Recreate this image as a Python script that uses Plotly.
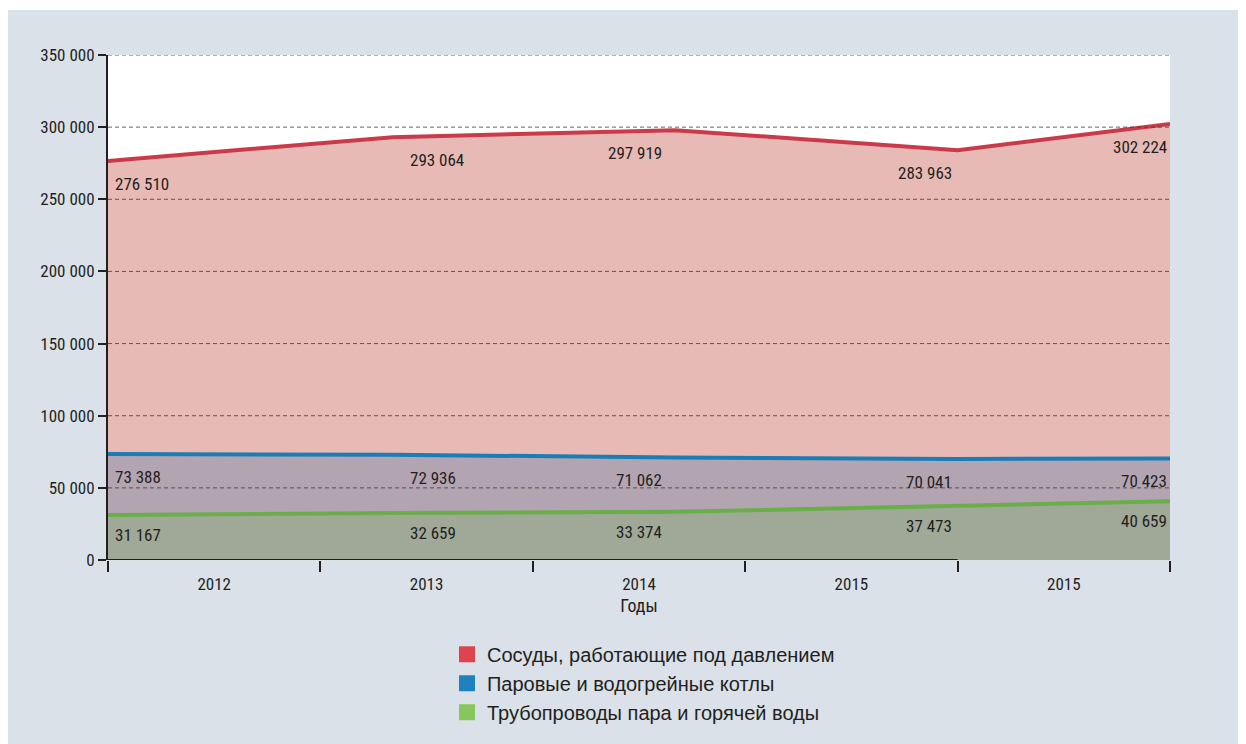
import plotly.graph_objects as go

# Data
years = ['2012', '2013', '2014', '2015', '2015']
x_points = [0, 1.34, 2.67, 4.0, 5.0]  # where the line vertices sit on the axis
vessels = [276510, 293064, 297919, 283963, 302224]
boilers = [73388, 72936, 71062, 70041, 70423]
pipes = [31167, 32659, 33374, 37473, 40659]
y_ticks = [0, 50000, 100000, 150000, 200000, 250000, 300000, 350000]

names = ['Сосуды, работающие под давлением',
         'Паровые и водогрейные котлы',
         'Трубопроводы пара и горячей воды']
legend_colors = ['#e0434f', '#1f82c0', '#86c65a']
line_colors = ['#c93a4a', '#1a7db5', '#6aae4a']
fill_colors = ['#e8bab5', '#b3a4b2', '#a0a898']

FONT = "Liberation Sans Narrow, Roboto Condensed, Roboto, Arial"
LEGEND_FONT = "Liberation Sans, Arial"
INK = '#231f20'


def fmt(v):
    return f"{v:,}".replace(",", " ")


fig = go.Figure()

# area bands, drawn bottom up so every band fills to the one below it
series = [pipes, boilers, vessels]
for i, vals in enumerate(series):
    k = 2 - i
    fig.add_trace(go.Scatter(
        x=x_points, y=vals, mode='lines',
        line=dict(color=line_colors[k], width=4),
        fill='tozeroy' if i == 0 else 'tonexty',
        fillcolor=fill_colors[k],
        showlegend=False, hoverinfo='skip'
    ))

# legend entries as plain squares
for name, col in zip(names, legend_colors):
    fig.add_trace(go.Scatter(
        x=[None], y=[None], mode='markers', name=name,
        marker=dict(symbol='square', size=16, color=col)
    ))

# value labels under each vertex
anchors = ['left', 'left', 'right', 'right', 'right']
shifts = [5, 15, -11, -4, -1]
for vals, dy in [(vessels, -11), (boilers, -11), (pipes, -8)]:
    for xv, yv, a, s in zip(x_points, vals, anchors, shifts):
        fig.add_annotation(
            x=xv, y=yv, text=fmt(yv), showarrow=False,
            xanchor=a, yanchor='top', xshift=s, yshift=dy,
            font=dict(size=17, color=INK, family=FONT)
        )

# dashed grid drawn over the filled areas
for v in y_ticks[1:]:
    fig.add_shape(type='line', xref='paper', yref='y', layer='above',
                  x0=0, x1=1, y0=v, y1=v,
                  line=dict(color='rgba(60,60,60,0.8)', width=1, dash='4px,3px'))

# thin white strip along the top edge
fig.add_shape(type='rect', xref='paper', yref='paper', layer='below',
              x0=-0.0942, x1=1.0716, y0=1.0891, y1=1.0931,
              fillcolor='white', line=dict(width=0))
# bottom axis line, which stops at the last inner tick
fig.add_shape(type='line', xref='x', yref='y', x0=0, x1=4, y0=0, y1=0,
              line=dict(color=INK, width=2))

fig.update_xaxes(
    range=[0, 5],
    tickvals=[i + 0.5 for i in range(len(years))],
    ticktext=years,
    ticks='outside', ticklen=9, tickcolor='rgba(0,0,0,0)',
    showgrid=False, zeroline=False, showline=False,
    minor=dict(tickvals=list(range(len(years) + 1)), ticks='outside',
               ticklen=11, tickwidth=1.5, tickcolor=INK, showgrid=False),
    tickfont=dict(size=17, color=INK, family=FONT),
    title=dict(text='Годы', font=dict(size=18, color=INK, family=FONT),
               standoff=5),
)
fig.update_yaxes(
    range=[0, 350000],
    tickvals=y_ticks,
    ticktext=[fmt(v) for v in y_ticks],
    ticks='outside', ticklen=8, tickwidth=1.5, tickcolor=INK,
    showline=True, linecolor=INK, linewidth=2,
    showgrid=False, zeroline=False,
    tickfont=dict(size=17, color=INK, family=FONT),
)

fig.update_layout(
    width=1238, height=736,
    margin=dict(l=100, r=76, t=47, b=184),
    paper_bgcolor='#dae1e8',
    plot_bgcolor='white',
    font=dict(family=FONT, color=INK),
    legend=dict(
        x=0.3192, y=-0.148, xanchor='left', yanchor='top',
        traceorder='normal',
        bgcolor='rgba(0,0,0,0)',
        font=dict(size=20, color=INK, family=LEGEND_FONT),
        tracegroupgap=0,
    ),
)

fig.write_html("out.html")
